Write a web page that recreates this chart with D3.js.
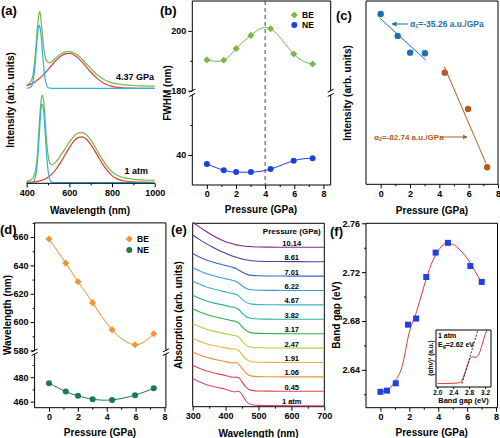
<!DOCTYPE html>
<html><head><meta charset="utf-8">
<script src="https://cdn.jsdelivr.net/npm/d3@7/dist/d3.min.js"></script>
<style>
body{margin:0;background:#fff}
svg{display:block}
</style></head><body>
<svg id="c" width="500" height="438"></svg>
<script>
// ---------------- DATA ----------------
// (a) PL spectra
const aWave = [400,420,430,440,450,455,460,465,470,475,480,485,490,500,510,520,540,560,580,600,620,640,660,680,700,720,740,760,780,800,820,840,860,880,900,950,1000];
const aAtmGreen = [1.5,3,5,11,28,44,62,77,86,87.7,81,67,51,28,19,18,21.5,27.5,34,40.5,46,49.5,50,48,43,36,28.5,21.5,15.5,11,8,6,4.8,4,3.4,2.7,2.3];
const aAtmRed = [0.3,0.5,0.7,0.9,1.3,1.5,1.8,2.0,2.4,2.7,3.1,3.5,4.1,5.4,7.1,9.1,14.2,20.6,27.9,35.1,41.3,45.1,45.9,43.5,38.4,31.6,24.2,17.3,11.5,7.1,4.3,2.6,1.7,1.2,0.9,0.5,0.3];
const aAtmCyan = [0,0,0.7,4.9,20.6,34.7,51.6,67.4,77.6,78.6,70.1,55,38,12.4,2.4,0.3,0,0,0,0,0,0,0,0,0,0,0,0,0,0,0,0,0,0,0,0,0];
const aGpaGreen = [3,7,14,33,60,71,76.6,73,62,50,40,33,29,26,25.5,27,31,34.5,36.5,36.6,35.5,33,29,24.5,20,15.5,12,9,7,5.5,4.7,4,3.5,3.1,2.8,2.4,2.2];
const aGpaRed = [2.5,4.2,5.3,6.6,8.2,9.0,9.9,10.9,11.9,12.9,14,15.2,16.3,18.7,21.2,23.7,28.4,32.2,34.5,34.9,33.5,30.4,26.1,21.2,16.3,11.9,8.2,5.3,3.3,1.9,1.1,0.6,0.3,0.2,0.1,0,0];
const aGpaCyan = [0,1.3,7.4,25.2,51.5,60.8,63.2,57.7,46.5,32.9,20.6,11.3,5.5,0.9,0.1,0,0,0,0,0,0,0,0,0,0,0,0,0,0,0,0,0,0,0,0,0,0];
const aOffset = 94.4;
const aTicks = [400,600,800,1000];

// (b) FWHM
const plP = [0,1.16,2.01,3.02,4.37,5.96,7.26];
const bBE = [190.3,190.2,194.1,198.5,200.7,192.3,188.9];
const bNE = [37.0,34.9,34.3,34.3,35.3,38.1,38.9];

// (c) intensity
const cP1 = [0,1.16,2.01,3.02];
const cI1 = [425.8,370.8,329,327.5];
const cP2 = [4.37,5.96,7.26];
const cI2 = [279,188,42.5];
const cFit1P = [-0.05,3.07], cFit1I = [415,310.7];
const cFit2P = [4.34,7.18], cFit2I = [294,52.5];

// (d) peak wavelength
const dBE = [658.6,641.6,628.5,613.7,594.6,584.0,591.8];
const dNE = [475.1,468.2,464.7,462.0,461.4,465.3,471.0];

// (e) absorption spectra
const eWave = [300,320,340,360,380,400,410,420,430,440,450,460,470,480,500,550,600,650,700];
const ePress = ["1 atm","0.45","1.06","1.91","2.47","3.17","3.82","4.67","6.22","7.01","8.61","10.14"];
const eColors = ["#de3f92","#e0464e","#f0923c","#eab23a","#b3cd3c","#34b04c","#2db38f","#38b4c6","#3d9ad8","#3a62cc","#4d3c9c","#7d2c8c"];
const eAbs = [
 [27.3,24,21.3,19.5,18,16.5,15.3,14.2,14,14.4,11,5.7,2.3,1,0.3,0.1,0,0,0],
 [26,23,20.5,18.8,17.2,15.8,14.8,14,14.2,13.5,9.5,4.8,2,0.9,0.3,0.1,0,0,0],
 [25,22.2,19.8,18,16.6,15.3,14.5,14,14.3,12.8,8.5,4.3,1.8,0.8,0.3,0.1,0,0,0],
 [24,21.3,19,17.2,15.8,14.6,14,13.5,13.5,12,7.8,4,1.7,0.8,0.3,0.1,0,0,0],
 [24.4,21.5,19.1,17.2,15.7,14.3,13.6,13,12.5,11,7.2,3.8,1.7,0.8,0.3,0.1,0,0,0],
 [25,22,19.5,17.5,16,14.5,13.7,13,12.5,10.8,7,3.8,1.7,0.8,0.3,0.1,0,0,0],
 [24,21,18.6,16.7,15.2,13.7,13,12.2,11.5,9.8,6.3,3.3,1.6,0.8,0.3,0.1,0,0,0],
 [24,20.8,18.2,16.2,14.6,13,12.2,11.5,10.7,9,5.7,3,1.5,0.8,0.3,0.1,0,0,0],
 [23,19.7,17,15,13.3,11.8,11,10.2,9.3,7.5,4.8,2.6,1.3,0.7,0.3,0.1,0,0,0],
 [22.7,19.2,16.3,14.1,12.3,10.6,9.8,8.9,7.8,6,4,2.3,1.2,0.7,0.3,0.1,0,0,0],
 [26.7,22.3,18.3,14.6,11.3,8.4,7,5.8,4.7,3.7,2.8,2,1.4,1,0.5,0.2,0.1,0,0],
 [25,20.4,16,12,8.5,5.6,4.5,3.5,2.7,2,1.5,1.1,0.8,0.6,0.3,0.1,0,0,0]
];
const eStep = 14.4;

// (f) band gap
const fP = [0,0.45,1.06,1.91,2.47,3.17,3.82,4.67,6.22,7.01];
const fEg = [2.622,2.623,2.629,2.677,2.682,2.716,2.736,2.744,2.725,2.712];
const fFitP = [0,0.5,1.0,1.5,2.0,2.5,3.0,3.5,4.0,4.5,5.0,5.5,6.0,6.5,7.01];
const fFitEg = [2.622,2.6236,2.6305,2.6427,2.671,2.6877,2.708,2.726,2.7374,2.7434,2.7428,2.7382,2.7314,2.7218,2.711];
// (f) inset Tauc plot
const inE = [2.0,2.2,2.4,2.5,2.55,2.6,2.65,2.7,2.75,2.8,2.85,2.9,2.95,3.0,3.05,3.1,3.15,3.2,3.25];
const inA = [0.06,0.06,0.065,0.07,0.075,0.09,0.16,0.26,0.36,0.46,0.52,0.53,0.52,0.53,0.58,0.68,0.8,0.92,1.0];
const inTanE = [2.62,3.02], inTanA = [0.06,1.0];

// ---------------- DRAW ----------------
const F = '"Liberation Sans", Arial, Helvetica, sans-serif';
const svg = d3.select("#c").attr("font-family",F).attr("font-weight","bold");
const TF = 9;

function styleAxis(g, fs){
  g.select(".domain").remove();
  g.selectAll(".tick line").attr("stroke","#000").attr("stroke-width",1);
  g.selectAll(".tick text").attr("font-size",fs||TF).attr("font-weight","bold").attr("font-family",F).attr("fill","#000");
}
function xAx(scale,y,majors,minors,fmt,fs,pad){
  const g1 = svg.append("g").attr("transform",`translate(0,${y})`).call(d3.axisBottom(scale).tickValues(minors).tickSize(2).tickFormat(""));
  styleAxis(g1);
  const g2 = svg.append("g").attr("transform",`translate(0,${y})`).call(d3.axisBottom(scale).tickValues(majors).tickSize(4).tickPadding(pad==null?2:pad).tickFormat(fmt||d3.format("d")));
  styleAxis(g2,fs);
}
function yAx(scale,x,majors,minors,fmt,fs){
  const g1 = svg.append("g").attr("transform",`translate(${x},0)`).call(d3.axisLeft(scale).tickValues(minors).tickSize(2).tickFormat(""));
  styleAxis(g1);
  const g2 = svg.append("g").attr("transform",`translate(${x},0)`).call(d3.axisLeft(scale).tickValues(majors).tickSize(4).tickPadding(2).tickFormat(fmt||d3.format("d")));
  styleAxis(g2,fs);
}
function line(x1,y1,x2,y2,c,w,dash){
  const l = svg.append("line").attr("x1",x1).attr("y1",y1).attr("x2",x2).attr("y2",y2).attr("stroke",c||"#000").attr("stroke-width",w||1);
  if(dash) l.attr("stroke-dasharray",dash);
  return l;
}
function frame(x0,x1,y0,y1,gap){
  line(x0,y0,x1,y0); line(x0,y1,x1,y1);
  if(!gap){ line(x0,y0,x0,y1); line(x1,y0,x1,y1); }
  else {
    [x0,x1].forEach(x=>{
      line(x,y0,x,gap[0]); line(x,gap[1],x,y1);
      line(x-3,gap[0]+1.5,x+3,gap[0]-1.5);
      line(x-3,gap[1]+1.5,x+3,gap[1]-1.5);
    });
  }
}
function txt(x,y,s,o){
  o=o||{};
  const t = svg.append("text").attr("x",x).attr("y",y).text(s)
    .attr("font-size",o.fs||10).attr("fill",o.c||"#000")
    .attr("text-anchor",o.a||"start").attr("dominant-baseline","central");
  if(o.rot) t.attr("transform",`rotate(-90,${x},${y})`);
  return t;
}
function diamonds(data,xs,ys,color,s){
  svg.append("g").selectAll("path").data(data).join("path")
    .attr("d",d3.symbol(d3.symbolSquare, s*s))
    .attr("transform",d=>`translate(${xs(d[0])},${ys(d[1])}) rotate(45)`).attr("fill",color);
}
function dots(data,xs,ys,color,r){
  svg.append("g").selectAll("circle").data(data).join("circle")
    .attr("cx",d=>xs(d[0])).attr("cy",d=>ys(d[1])).attr("r",r).attr("fill",color);
}
function curve(data,xs,ys,color,w,c){
  svg.append("path").datum(data).attr("fill","none").attr("stroke",color).attr("stroke-width",w||1)
    .attr("d",d3.line().x(d=>xs(d[0])).y(d=>ys(d[1])).curve(c||d3.curveLinear));
}
const zip=(a,b)=>a.map((v,i)=>[v,b[i]]);

// ===== (a) =====
{
  const x = d3.scaleLinear().domain([400,1000]).range([26.7,154.7]);
  const y = d3.scaleLinear().domain([0,180]).range([182.7,2.7]);
  const yTop = d3.scaleLinear().domain([-aOffset,180-aOffset]).range([182.7,2.7]);
  const cv = d3.curveMonotoneX;
  curve(zip(aWave,aAtmGreen),x,y,"#72b84a",1.2,cv);
  curve(zip(aWave,aAtmRed),x,y,"#e23b2e",1.2,cv);
  curve(zip(aWave,aAtmCyan),x,y,"#2bb3dc",1.2,cv);
  curve(zip(aWave,aGpaGreen),x,yTop,"#72b84a",1.2,cv);
  curve(zip(aWave,aGpaRed),x,yTop,"#e23b2e",1.2,cv);
  curve(zip(aWave,aGpaCyan),x,yTop,"#2bb3dc",1.2,cv);
  line(x(400),183.3,x(1000),183.3);
  xAx(x,183.3,aTicks,[500,700,900]);
  txt(154,77,"4.37 GPa",{fs:9,a:"end"});
  txt(148,171,"1 atm",{fs:9,a:"end"});
  txt(90,210,"Wavelength (nm)",{a:"middle"});
  txt(10,100,"Intensity (arb. units)",{a:"middle",rot:true});
  txt(1,10,"(a)",{fs:13});
}

// ===== (b) =====
{
  const x = d3.scaleLinear().domain([-1,8.5]).range([192.3,330.7]);
  const yu = d3.scaleLinear().domain([180,210]).range([90.7,1]);
  const yl = d3.scaleLinear().domain([30,60]).range([185,95]);
  frame(192.3,330.7,1,185,[90.7,95]);
  line(x(4),1,x(4),185,"#444",1,"4,3");
  xAx(x,185,[0,2,4,6,8],[1,3,5,7]);
  yAx(yu,192.3,[180,200],[190]);
  yAx(yl,192.3,[40],[50]);
  curve(zip(plP,bBE),x,yu,"#72b84a",1,d3.curveNatural);
  curve(zip(plP,bNE),x,yl,"#1d3fe0",1,d3.curveNatural);
  diamonds(zip(plP,bBE),x,yu,"#76b947",5);
  dots(zip(plP,bNE),x,yl,"#1d3fe0",3);
  svg.append("path").attr("d",d3.symbol(d3.symbolSquare,25)).attr("transform","translate(294.3,15) rotate(45)").attr("fill","#76b947");
  svg.append("circle").attr("cx",294.3).attr("cy",25).attr("r",3).attr("fill","#1d3fe0");
  txt(302,15,"BE",{fs:8.5}); txt(302,25,"NE",{fs:8.5});
  txt(261,209,"Pressure (GPa)",{a:"middle"});
  txt(167,93,"FWHM (nm)",{a:"middle",rot:true});
  txt(160,10,"(b)",{fs:13});
}

// ===== (c) =====
{
  const x = d3.scaleLinear().domain([-1,8]).range([366,498]);
  const y = d3.scaleLinear().domain([0,458]).range([184.3,1]);
  frame(366,498,1,184.3);
  xAx(x,184.3,[0,2,4,6,8],[1,3,5,7]);
  curve(zip(cFit1P,cFit1I),x,y,"#1f6fb2",1);
  curve(zip(cFit2P,cFit2I),x,y,"#b35c1e",1);
  dots(zip(cP1,cI1),x,y,"#1f6fb2",3.2);
  dots(zip(cP2,cI2),x,y,"#b35c1e",3.2);
  const defs = svg.append("defs");
  [["ab","#1f6fb2"],["ao","#b35c1e"]].forEach(([id,c])=>{
    defs.append("marker").attr("id",id).attr("viewBox","0 0 10 10").attr("refX",9).attr("refY",5)
      .attr("markerWidth",5).attr("markerHeight",5).attr("orient","auto")
      .append("path").attr("d","M0,0L10,5L0,10z").attr("fill",c);
  });
  line(408,24,392,24,"#1f6fb2",1).attr("marker-end","url(#ab)");
  const t1 = txt(410,24,"",{fs:8.5,c:"#1f6fb2"});
  t1.append("tspan").text("α");
  t1.append("tspan").text("1").attr("font-size",5.5).attr("dy",2);
  t1.append("tspan").text("=-35.26 a.u./GPa").attr("dy",-2);
  line(440,137,467,137,"#b35c1e",1).attr("marker-end","url(#ao)");
  const t2 = txt(374,137,"",{fs:8,c:"#b35c1e"});
  t2.append("tspan").text("α");
  t2.append("tspan").text("2").attr("font-size",5.5).attr("dy",2);
  t2.append("tspan").text("=-82.74 a.u./GPa").attr("dy",-2);
  txt(432,210,"Pressure (GPa)",{a:"middle"});
  txt(347,93,"Intensity (arb. units)",{a:"middle",rot:true});
  txt(336,15,"(c)",{fs:13});
}

// ===== (d) =====
{
  const x = d3.scaleLinear().domain([-1,8.1]).range([34.6,165.9]);
  const yu = d3.scaleLinear().domain([580,670]).range([350.4,222.9]);
  const yl = d3.scaleLinear().domain([455,499]).range([407.7,354]);
  frame(34.6,165.9,222.9,407.7,[350.4,354]);
  xAx(x,407.7,[0,2,4,6,8],[1,3,5,7]);
  yAx(yu,34.6,[580,600,620,640,660],[590,610,630,650,670]);
  yAx(yl,34.6,[460,480],[470,490]);
  curve(zip(plP,dBE),x,yu,"#f08a2a",1,d3.curveNatural);
  curve(zip(plP,dNE),x,yl,"#1b7a4a",1,d3.curveNatural);
  diamonds(zip(plP,dBE),x,yu,"#f4922f",5);
  dots(zip(plP,dNE),x,yl,"#1b7a4a",3);
  svg.append("path").attr("d",d3.symbol(d3.symbolSquare,25)).attr("transform","translate(129.3,239) rotate(45)").attr("fill","#f4922f");
  svg.append("circle").attr("cx",129.3).attr("cy",250).attr("r",3).attr("fill","#1b7a4a");
  txt(137,239,"BE",{fs:8.5}); txt(137,250,"NE",{fs:8.5});
  txt(100,432.5,"Pressure (GPa)",{a:"middle"});
  txt(7,315,"Wavelength (nm)",{a:"middle",rot:true});
  txt(0,229,"(d)",{fs:13});
}

// ===== (e) =====
{
  const x = d3.scaleLinear().domain([300,700]).range([192.7,324.3]);
  const y = d3.scaleLinear().domain([-1,182.4]).range([406.7,223.3]);
  frame(192.7,324.3,223.3,406.7);
  xAx(x,406.7,[300,400,500,600,700],[350,450,550,650]);
  eAbs.forEach((arr,i)=>{
    const off = i*eStep;
    curve(eWave.map((w,j)=>[w,arr[j]+off]),x,y,eColors[i],1.1,d3.curveMonotoneX);
    txt(x(601),y(off)-4,ePress[i],{fs:7.5,a:"middle"});
  });
  txt(x(601),231,"Pressure (GPa)",{fs:8,a:"middle"});
  txt(258.5,433,"Wavelength (nm)",{a:"middle"});
  txt(178,315,"Absorption (arb. units)",{a:"middle",rot:true});
  txt(171,229,"(e)",{fs:13});
}

// ===== (f) =====
{
  const x = d3.scaleLinear().domain([-1,8.1]).range([366,497.5]);
  const y = d3.scaleLinear().domain([2.609,2.76]).range([407.7,223.3]);
  frame(366,497.5,223.3,407.7);
  xAx(x,407.7,[0,2,4,6,8],[1,3,5,7]);
  yAx(y,366,[2.64,2.68,2.72,2.76],[2.62,2.66,2.70,2.74],d3.format(".2f"));
  curve(zip(fFitP,fFitEg),x,y,"#e03a3a",1,d3.curveMonotoneX);
  svg.append("g").selectAll("rect").data(zip(fP,fEg)).join("rect")
    .attr("x",d=>x(d[0])-3).attr("y",d=>y(d[1])-3).attr("width",6).attr("height",6).attr("fill","#2040e0");
  // inset
  const xi = d3.scaleLinear().domain([1.967,3.35]).range([436,491]);
  const yi = d3.scaleLinear().domain([0,1]).range([387,330]);
  svg.append("rect").attr("x",436).attr("y",330).attr("width",55).attr("height",57).attr("fill","#fff");
  svg.append("clipPath").attr("id","ic").append("rect").attr("x",436).attr("y",330).attr("width",55).attr("height",57);
  const gi = svg.append("g").attr("clip-path","url(#ic)");
  gi.append("path").datum(zip(inE,inA)).attr("fill","none").attr("stroke","#e03a3a").attr("stroke-width",1)
    .attr("d",d3.line().x(d=>xi(d[0])).y(d=>yi(d[1])).curve(d3.curveMonotoneX));
  gi.append("path").datum(zip(inTanE,inTanA)).attr("fill","none").attr("stroke","#000").attr("stroke-width",0.8).attr("stroke-dasharray","2,1.5")
    .attr("d",d3.line().x(d=>xi(d[0])).y(d=>yi(d[1])));
  frame(436,491,330,387);
  const gx = svg.append("g").attr("transform","translate(0,387)").call(d3.axisBottom(xi).tickValues([2.0,2.4,2.8,3.2]).tickSize(2).tickPadding(1).tickFormat(d3.format(".1f")));
  styleAxis(gx,6.5);
  txt(438,335,"1 atm",{fs:7});
  const te = txt(438,344,"",{fs:7});
  te.append("tspan").text("E");
  te.append("tspan").text("g").attr("font-size",5).attr("dy",1.5);
  te.append("tspan").text("=2.62 eV").attr("dy",-1.5);
  txt(463.5,400,"Band gap (eV)",{fs:7.5,a:"middle"});
  txt(430,358,"(αhν)² (a.u.)",{fs:6.5,a:"middle",rot:true});
  txt(431.7,432.5,"Pressure (GPa)",{a:"middle"});
  txt(336.5,315,"Band gap (eV)",{a:"middle",rot:true});
  txt(330,231,"(f)",{fs:13});
}
</script></body></html>
